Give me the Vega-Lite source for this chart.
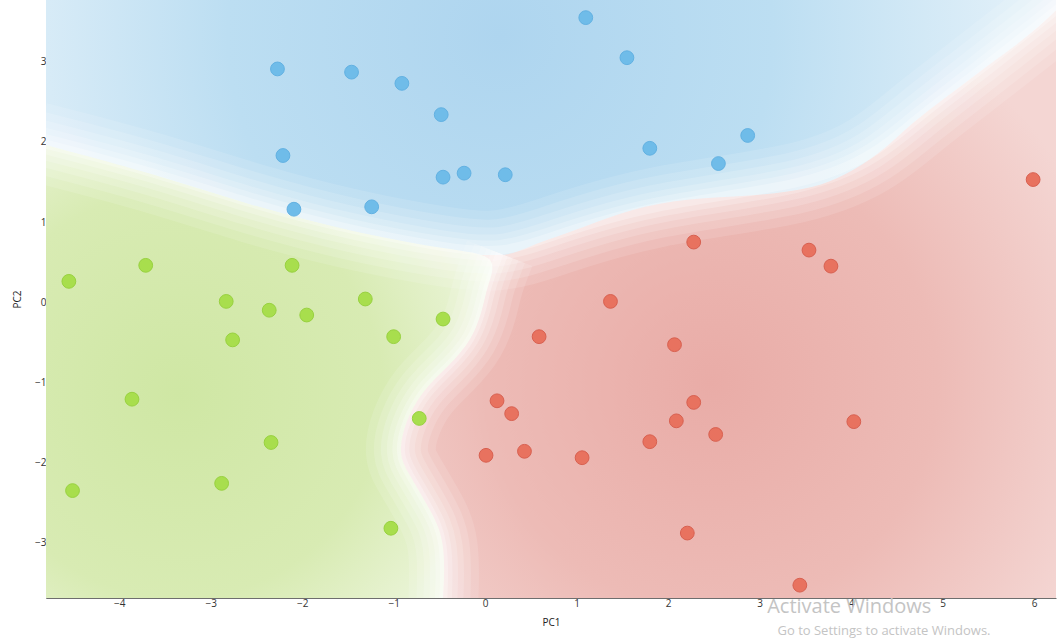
{
  "$schema": "https://vega.github.io/schema/vega-lite/v6.json",
  "width": 1010,
  "height": 598,
  "autosize": "none",
  "padding": {"left": 46, "top": 0, "right": 2, "bottom": 43},
  "background": "white",
  "config": {
    "view": {"stroke": null},
    "axis": {
      "grid": false,
      "domainColor": "#6e6e6e",
      "tickColor": "#6e6e6e",
      "tickSize": -5,
      "labelColor": "#333333",
      "labelFont": "Open Sans",
      "labelFontSize": 10,
      "labelPadding": 5,
      "titleFont": "Open Sans",
      "titleFontSize": 10,
      "titleFontWeight": "normal",
      "titleColor": "#222222"
    }
  },
  "datasets": {
    "blue": [{"x": -4.8, "x2": 6.24, "y": 3.77, "y2": -3.69}],
    "red": [
      {"x": -1.0, "y": 0.59, "y2": -3.69},
      {"x": 0.16, "y": 0.59, "y2": -3.69},
      {"x": 0.66, "y": 0.77, "y2": -3.69},
      {"x": 1.75, "y": 1.19, "y2": -3.69},
      {"x": 3.58, "y": 1.44, "y2": -3.69},
      {"x": 4.3, "y": 1.86, "y2": -3.69},
      {"x": 4.67, "y": 2.23, "y2": -3.69},
      {"x": 5.39, "y": 2.86, "y2": -3.69},
      {"x": 6.13, "y": 3.52, "y2": -3.69},
      {"x": 6.24, "y": 3.64, "y2": -3.69}
    ],
    "green": [
      {"y": -3.69, "x": -0.46, "x2": -4.8},
      {"y": -2.96, "x": -0.43, "x2": -4.8},
      {"y": -2.55, "x": -0.62, "x2": -4.8},
      {"y": -2.13, "x": -0.84, "x2": -4.8},
      {"y": -1.9, "x": -0.95, "x2": -4.8},
      {"y": -1.5, "x": -0.88, "x2": -4.8},
      {"y": -1.09, "x": -0.68, "x2": -4.8},
      {"y": -0.8, "x": -0.4, "x2": -4.8},
      {"y": -0.47, "x": -0.14, "x2": -4.8},
      {"y": -0.06, "x": -0.02, "x2": -4.8},
      {"y": 0.2, "x": 0.02, "x2": -4.8},
      {"y": 0.59, "x": 0.16, "x2": -4.8},
      {"y": 0.65, "x": -0.39, "x2": -4.8},
      {"y": 0.88, "x": -1.48, "x2": -4.8},
      {"y": 1.21, "x": -2.57, "x2": -4.8},
      {"y": 1.62, "x": -3.67, "x2": -4.8},
      {"y": 1.96, "x": -4.8, "x2": -4.8}
    ],
    "edgeTop": [
      {"i": 0, "x": -4.9, "y": 2.0},
      {"i": 1, "x": -3.67, "y": 1.64},
      {"i": 2, "x": -2.57, "y": 1.23},
      {"i": 3, "x": -1.48, "y": 0.9},
      {"i": 4, "x": -0.39, "y": 0.67},
      {"i": 5, "x": 0.16, "y": 0.61},
      {"i": 6, "x": 0.66, "y": 0.79},
      {"i": 7, "x": 1.75, "y": 1.21},
      {"i": 8, "x": 3.58, "y": 1.46},
      {"i": 9, "x": 4.3, "y": 1.88},
      {"i": 10, "x": 4.67, "y": 2.25},
      {"i": 11, "x": 5.39, "y": 2.88},
      {"i": 12, "x": 6.13, "y": 3.54},
      {"i": 13, "x": 6.3, "y": 3.7}
    ],
    "edgeSide": [
      {"i": 0, "x": 0.16, "y": 0.61},
      {"i": 1, "x": 0.02, "y": 0.2},
      {"i": 2, "x": -0.02, "y": -0.06},
      {"i": 3, "x": -0.14, "y": -0.47},
      {"i": 4, "x": -0.4, "y": -0.8},
      {"i": 5, "x": -0.68, "y": -1.09},
      {"i": 6, "x": -0.88, "y": -1.5},
      {"i": 7, "x": -0.95, "y": -1.9},
      {"i": 8, "x": -0.84, "y": -2.13},
      {"i": 9, "x": -0.62, "y": -2.55},
      {"i": 10, "x": -0.43, "y": -2.96},
      {"i": 11, "x": -0.46, "y": -3.8}
    ],
    "points": [
      {"cls": "c0", "x": 1.1, "y": 3.55},
      {"cls": "c0", "x": 1.55, "y": 3.05},
      {"cls": "c0", "x": -2.27, "y": 2.91},
      {"cls": "c0", "x": -1.46, "y": 2.87},
      {"cls": "c0", "x": -0.91, "y": 2.73},
      {"cls": "c0", "x": -0.48, "y": 2.34},
      {"cls": "c0", "x": -2.21, "y": 1.83},
      {"cls": "c0", "x": 1.8, "y": 1.92},
      {"cls": "c0", "x": 2.87, "y": 2.08},
      {"cls": "c0", "x": 2.55, "y": 1.73},
      {"cls": "c0", "x": -0.46, "y": 1.56},
      {"cls": "c0", "x": -0.23, "y": 1.61},
      {"cls": "c0", "x": 0.22, "y": 1.59},
      {"cls": "c0", "x": -2.09, "y": 1.16},
      {"cls": "c0", "x": -1.24, "y": 1.19},
      {"cls": "c1", "x": -4.55, "y": 0.26},
      {"cls": "c1", "x": -3.71, "y": 0.46},
      {"cls": "c1", "x": -2.11, "y": 0.46},
      {"cls": "c1", "x": -2.83, "y": 0.01},
      {"cls": "c1", "x": -2.36, "y": -0.1},
      {"cls": "c1", "x": -1.95, "y": -0.16},
      {"cls": "c1", "x": -1.31, "y": 0.04},
      {"cls": "c1", "x": -0.46, "y": -0.21},
      {"cls": "c1", "x": -2.76, "y": -0.47},
      {"cls": "c1", "x": -1.0, "y": -0.43},
      {"cls": "c1", "x": -3.86, "y": -1.21},
      {"cls": "c1", "x": -0.72, "y": -1.45},
      {"cls": "c1", "x": -2.34, "y": -1.75},
      {"cls": "c1", "x": -4.51, "y": -2.35},
      {"cls": "c1", "x": -2.88, "y": -2.26},
      {"cls": "c1", "x": -1.03, "y": -2.82},
      {"cls": "c2", "x": 2.28, "y": 0.75},
      {"cls": "c2", "x": 3.54, "y": 0.65},
      {"cls": "c2", "x": 3.78, "y": 0.45},
      {"cls": "c2", "x": 5.99, "y": 1.53},
      {"cls": "c2", "x": 1.37, "y": 0.01},
      {"cls": "c2", "x": 0.59, "y": -0.43},
      {"cls": "c2", "x": 2.07, "y": -0.53},
      {"cls": "c2", "x": 0.13, "y": -1.23},
      {"cls": "c2", "x": 0.29, "y": -1.39},
      {"cls": "c2", "x": 2.28, "y": -1.25},
      {"cls": "c2", "x": 2.09, "y": -1.48},
      {"cls": "c2", "x": 4.03, "y": -1.49},
      {"cls": "c2", "x": 2.52, "y": -1.65},
      {"cls": "c2", "x": 1.8, "y": -1.74},
      {"cls": "c2", "x": 0.01, "y": -1.91},
      {"cls": "c2", "x": 0.43, "y": -1.86},
      {"cls": "c2", "x": 1.06, "y": -1.94},
      {"cls": "c2", "x": 2.21, "y": -2.88},
      {"cls": "c2", "x": 3.44, "y": -3.53}
    ],
    "watermark": [
      {"x": 3.98, "y": -3.8, "label": "Activate Windows", "size": 20},
      {"x": 4.36, "y": -4.1, "label": "Go to Settings to activate Windows.", "size": 13}
    ]
  },
  "encoding": {
    "x": {
      "field": "x",
      "type": "quantitative",
      "scale": {"domain": [-4.8, 6.24], "nice": false, "zero": false},
      "axis": {"values": [-4, -3, -2, -1, 0, 1, 2, 3, 4, 5, 6], "title": "PC1", "titlePadding": 9}
    },
    "y": {
      "field": "y",
      "type": "quantitative",
      "scale": {"domain": [-3.69, 3.77], "nice": false, "zero": false},
      "axis": {"values": [-3, -2, -1, 0, 1, 2, 3], "title": "PC2", "titlePadding": 12}
    }
  },
  "layer": [
    {
      "data": {"name": "blue"},
      "mark": {
        "type": "rect",
        "color": {
          "gradient": "radial",
          "x1": 0.45, "y1": 0.24, "r1": 0,
          "x2": 0.45, "y2": 0.24, "r2": 0.6,
          "stops": [
            {"offset": 0, "color": "#aed5ef"},
            {"offset": 0.45, "color": "#bcdef2"},
            {"offset": 1, "color": "#eef6fb"}
          ]
        }
      },
      "encoding": {"x2": {"field": "x2"}, "y2": {"field": "y2"}}
    },
    {
      "data": {"name": "red"},
      "mark": {
        "type": "area",
        "interpolate": "monotone",
        "clip": true,
        "color": {
          "gradient": "radial",
          "x1": 0.48, "y1": 0.62, "r1": 0,
          "x2": 0.48, "y2": 0.62, "r2": 0.62,
          "stops": [
            {"offset": 0, "color": "#e9aca7"},
            {"offset": 0.55, "color": "#edbbb6"},
            {"offset": 1, "color": "#f4d6d3"}
          ]
        }
      },
      "encoding": {"y2": {"field": "y2"}}
    },
    {
      "data": {"name": "green"},
      "mark": {
        "type": "area",
        "orient": "horizontal",
        "interpolate": "basis",
        "clip": true,
        "color": {
          "gradient": "radial",
          "x1": 0.3, "y1": 0.55, "r1": 0,
          "x2": 0.3, "y2": 0.55, "r2": 0.75,
          "stops": [
            {"offset": 0, "color": "#cfe7a4"},
            {"offset": 0.6, "color": "#d8ebb3"},
            {"offset": 1, "color": "#eef6df"}
          ]
        }
      },
      "encoding": {"x2": {"field": "x2"}}
    },
    {
      "data": {"name": "edgeTop"},
      "layer": [
        {"mark": {"type": "line", "stroke": "white", "strokeWidth": 80, "opacity": 0.12, "interpolate": "basis", "clip": true}, "encoding": {"order": {"field": "i"}}},
        {"mark": {"type": "line", "stroke": "white", "strokeWidth": 62, "opacity": 0.14, "interpolate": "basis", "clip": true}, "encoding": {"order": {"field": "i"}}},
        {"mark": {"type": "line", "stroke": "white", "strokeWidth": 46, "opacity": 0.16, "interpolate": "basis", "clip": true}, "encoding": {"order": {"field": "i"}}},
        {"mark": {"type": "line", "stroke": "white", "strokeWidth": 32, "opacity": 0.18, "interpolate": "basis", "clip": true}, "encoding": {"order": {"field": "i"}}},
        {"mark": {"type": "line", "stroke": "white", "strokeWidth": 20, "opacity": 0.22, "interpolate": "basis", "clip": true}, "encoding": {"order": {"field": "i"}}},
        {"mark": {"type": "line", "stroke": "white", "strokeWidth": 9, "opacity": 0.28, "interpolate": "basis", "clip": true}, "encoding": {"order": {"field": "i"}}}
      ]
    },
    {
      "data": {"name": "edgeSide"},
      "layer": [
        {"mark": {"type": "line", "stroke": "white", "strokeWidth": 70, "opacity": 0.12, "interpolate": "basis", "clip": true}, "encoding": {"order": {"field": "i"}}},
        {"mark": {"type": "line", "stroke": "white", "strokeWidth": 54, "opacity": 0.14, "interpolate": "basis", "clip": true}, "encoding": {"order": {"field": "i"}}},
        {"mark": {"type": "line", "stroke": "white", "strokeWidth": 40, "opacity": 0.16, "interpolate": "basis", "clip": true}, "encoding": {"order": {"field": "i"}}},
        {"mark": {"type": "line", "stroke": "white", "strokeWidth": 28, "opacity": 0.18, "interpolate": "basis", "clip": true}, "encoding": {"order": {"field": "i"}}},
        {"mark": {"type": "line", "stroke": "white", "strokeWidth": 17, "opacity": 0.22, "interpolate": "basis", "clip": true}, "encoding": {"order": {"field": "i"}}},
        {"mark": {"type": "line", "stroke": "white", "strokeWidth": 8, "opacity": 0.28, "interpolate": "basis", "clip": true}, "encoding": {"order": {"field": "i"}}}
      ]
    },
    {
      "data": {"name": "points"},
      "mark": {"type": "circle", "size": 190, "opacity": 1, "strokeWidth": 1, "fillOpacity": 1},
      "encoding": {
        "fill": {"field": "cls", "type": "nominal", "scale": {"domain": ["c0", "c1", "c2"], "range": ["#6fbce9", "#a8de4d", "#e8725f"]}, "legend": null},
        "stroke": {"field": "cls", "type": "nominal", "scale": {"domain": ["c0", "c1", "c2"], "range": ["#62b1e2", "#98d140", "#d86050"]}, "legend": null}
      }
    },
    {
      "data": {"name": "watermark"},
      "mark": {"type": "text", "font": "Open Sans", "color": "#c4c4c4", "baseline": "middle", "align": "center"},
      "encoding": {
        "text": {"field": "label"},
        "size": {"field": "size", "type": "quantitative", "scale": null}
      }
    }
  ]
}
